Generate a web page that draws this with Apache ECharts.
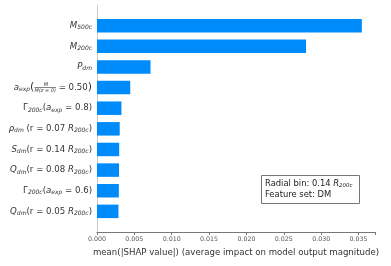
<!DOCTYPE html>
<html><head><meta charset="utf-8">
<script src="https://cdn.jsdelivr.net/npm/echarts@6/dist/echarts.min.js"></script>
<style>html,body{margin:0;padding:0;background:#fff}#c{width:391px;height:266px}</style>
</head><body><div id="c"></div>
<script>
// Features listed bottom -> top (padded with blank slots at both ends)
var featureLabels = [
  '',
  '{it|Q}{sub|dm}(r = 0.05 {it|R}{sub|200c})',
  'Γ{sub|200c}({it|a}{sub|exp} = 0.6)',
  '{it|Q}{sub|dm}(r = 0.08 {it|R}{sub|200c})',
  '{it|S}{sub|dm}(r = 0.14 {it|R}{sub|200c})',
  '{it|ρ}{sub|dm} (r = 0.07 {it|R}{sub|200c})',
  'Γ{sub|200c}({it|a}{sub|exp} = 0.8)',
  '{it|a}{sub|exp}{big|(}{fbar| }{fden|M(z = 0)}{fnum|M\u00a0\u00a0\u00a0\u00a0\u00a0}{n| = 0.50}{big|)}',
  '{it|P}{sub|dm}',
  '{it|M}{sub|200c}',
  '{it|M}{sub|500c}',
  ''
];
var shapValues = [null, 0.00287, 0.00292, 0.00295, 0.00297, 0.00304, 0.00327, 0.00445, 0.00716, 0.02797, 0.03544, null];
var xTicks = [0, 0.005, 0.010, 0.015, 0.020, 0.025, 0.030, 0.035];
var cats = featureLabels.map(function(_, i){ return 'f' + i; });

var chart = echarts.init(document.getElementById('c'), null, {renderer:'canvas'});
var F = 'DejaVu Sans';
var FS = 8.6, C = '#333';
chart.setOption({
  animation:false,
  grid:{left:97, right:16, top:5, bottom:34, containLabel:false},
  xAxis:{
    type:'value', min:0, max:0.0372, interval:0.005,
    axisLine:{show:true, lineStyle:{color:'#777', width:1}},
    axisTick:{show:true, length:3, lineStyle:{color:'#777'}},
    splitLine:{show:false},
    axisLabel:{fontFamily:F, fontSize:6.3, color:'#555', margin:4,
      formatter:function(v){ return xTicks.indexOf(Math.round(v*1000)/1000) >= 0 ? v.toFixed(3) : ''; }},
    name:'mean(|SHAP value|) (average impact on model output magnitude)',
    nameLocation:'middle', nameGap:16,
    nameTextStyle:{fontFamily:F, fontSize:FS, color:C}
  },
  yAxis:{
    type:'category', data:cats, boundaryGap:false,
    axisLine:{show:true, lineStyle:{color:'#ccc', width:1}},
    axisTick:{show:false},
    splitLine:{show:false},
    axisLabel:{
      margin:5, fontFamily:F, fontSize:FS, color:C,
      formatter:function(v, idx){ return featureLabels[idx]; },
      rich:{
        it:{fontFamily:F, fontSize:FS, fontStyle:'italic', color:C, lineHeight:12},
        sub:{fontFamily:F, fontSize:6, fontStyle:'italic', color:C, padding:[4,0,0,0], lineHeight:12},
        n:{fontFamily:F, fontSize:FS, color:C, lineHeight:12},
        big:{fontFamily:F, fontSize:11, color:C, lineHeight:12},
        fnum:{fontFamily:F, fontSize:5, fontStyle:'italic', color:C, width:0.001, padding:[0,0,6,0], lineHeight:12},
        fden:{fontFamily:F, fontSize:5, fontStyle:'italic', color:C, width:0.001, padding:[6,0,0,0], lineHeight:12},
        fbar:{fontFamily:F, fontSize:5, color:C, width:21.5, height:0.6, backgroundColor:C, lineHeight:12}
      }
    }
  },
  series:[{
    type:'bar', data:shapValues, barWidth:13.5,
    itemStyle:{color:'#008bfb'}
  }],
  graphic:[{
    type:'group', left:261, top:175,
    children:[
      {type:'rect', shape:{x:0,y:0,width:98,height:28}, style:{fill:'#fff', stroke:'#777', lineWidth:1}},
      {type:'text', left:3.5, top:2.5, style:{
        text:'Radial bin: 0.14 {it|R}{sub|200c}\nFeature set: DM',
        font:'8.4px "DejaVu Sans"', fill:'#222', lineHeight:11,
        rich:{
          it:{fontFamily:F, fontSize:8.4, fontStyle:'italic', fill:'#222', lineHeight:11},
          sub:{fontFamily:F, fontSize:5.5, fontStyle:'italic', fill:'#222', padding:[4,0,0,0], lineHeight:11}
        }
      }}
    ]
  }]
});
</script>
</body></html>
